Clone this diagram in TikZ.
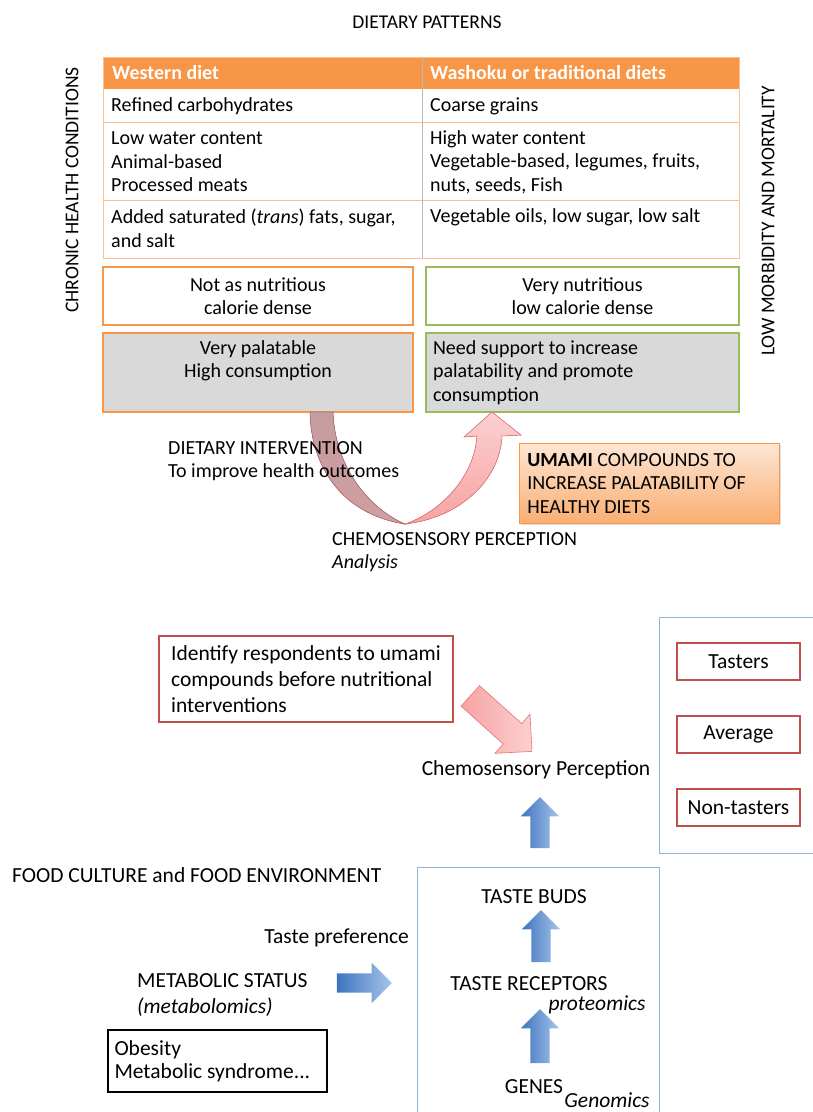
\documentclass[tikz,border=0pt]{standalone}
\usepackage{fontspec}
\setmainfont{Carlito}
\usetikzlibrary{shapes.arrows,shadows}

\definecolor{hdrorange}{HTML}{F79646}
\definecolor{lineorange}{HTML}{FAC090}
\definecolor{leafgreen}{HTML}{9BBB59}
\definecolor{boxgrey}{HTML}{D9D9D9}
\definecolor{brickred}{HTML}{C0504D}
\definecolor{steelblue}{HTML}{95B3D7}
\definecolor{arrowblue}{HTML}{3F74BE}
\definecolor{lightblue}{HTML}{A6C4EB}
\definecolor{pinkfill}{HTML}{F7A2A2}
\definecolor{pinklight}{HTML}{FCD0D0}
\definecolor{pinkline}{HTML}{E27676}
\definecolor{mauve}{HTML}{C59DA0}
\definecolor{mauveline}{HTML}{B06A6D}
\definecolor{peach}{HTML}{FDE6D4}
\definecolor{apricot}{HTML}{F9AE72}

\tikzset{
  txt/.style={font=\fontsize{20}{23.5}\selectfont, inner sep=0pt, align=flush left},
  txtL/.style={font=\fontsize{21.5}{26}\selectfont, inner sep=0pt, align=flush left},
  hdrtxt/.style={txt, text=white, font=\fontsize{20}{23.5}\selectfont\bfseries},
  obox/.style={txt, draw=hdrorange, line width=1.5pt, minimum width=310pt, minimum height=58pt},
  gbox/.style={txt, draw=leafgreen, line width=1.5pt, minimum width=313pt, minimum height=58pt},
  rbox/.style={txtL, draw=brickred, line width=1.5pt, fill=white},
  bbox/.style={draw=steelblue, line width=0.8pt},
  blockblue/.style={single arrow, draw=none, inner xsep=0pt, inner ysep=9.5pt,
    single arrow head extend=9.5pt, left color=arrowblue, right color=lightblue},
}

\begin{document}
\begin{tikzpicture}[x=1pt, y=-1pt]

% --- Dimensions ---
\def\xL{103}
\def\xM{422}
\def\xR{739}

\useasboundingbox (0,0) rectangle (812,1112);

% --- Titre et etiquettes verticales ---
\node[txt, font=\fontsize{19.5}{23}\selectfont] (title) at (427,22) {DIETARY PATTERNS};
\node[txt, font=\fontsize{19.5}{23}\selectfont, rotate=90] (chronic) at (72,190) {CHRONIC HEALTH CONDITIONS};
\node[txt, font=\fontsize{19.5}{23}\selectfont, rotate=90] (lowmorb) at (768,221) {LOW MORBIDITY AND MORTALITY};

% --- Tableau ---
\fill[hdrorange] (\xL,57) rectangle (\xR,89);
\draw[lineorange, line width=1pt] (\xL,122) -- (\xR,122);
\draw[lineorange, line width=1pt] (\xL,200) -- (\xR,200);
\draw[lineorange, line width=1pt] (\xL,57) rectangle (\xR,258);
\draw[gray!55, line width=0.8pt] (\xM,57) -- (\xM,258);

\node[hdrtxt, anchor=west] (western) at (112,73) {Western diet};
\node[hdrtxt, anchor=west] (washoku) at (430,73) {Washoku or traditional diets};

\node[txt, anchor=west] (refined) at (111,106) {Refined carbohydrates};
\node[txt, anchor=west] (coarse) at (430,106) {Coarse grains};
\node[txt, anchor=west] (lowwater) at (111,162) {Low water content\\Animal-based\\Processed meats};
\node[txt, anchor=west] (highwater) at (430,162) {High water content\\Vegetable-based, legumes, fruits,\\nuts, seeds, Fish};
\node[txt, anchor=west] (added) at (111,228.5) {Added saturated (\textit{trans}) fats, sugar,\\and salt};
\node[txt, anchor=west] (vegoils) at (430,217) {Vegetable oils, low sugar, low salt};

% --- Cases nutrition ---
\node[obox, align=flush center] (notnut) at (258,296) {Not as nutritious\\calorie dense};
\node[gbox, align=flush center] (verynut) at (582.5,296) {Very nutritious\\low calorie dense};
\node[obox, fill=boxgrey, minimum height=79pt] (palat) at (258,372.5) {};
\node[gbox, fill=boxgrey, minimum height=79pt, text width=299pt, inner xsep=7pt] (support) at (582.5,372.5)
  {Need support to increase\\palatability and promote\\consumption};
\node[txt, align=flush center] (palattxt) at (258,361) {Very palatable\\High consumption};

% --- Fleche en U ---
\fill[top color=pinklight, bottom color=pinkfill, draw=pinkline, line width=0.6pt]
  (405,524) .. controls (440,512) and (474,478) .. (477,436)
  -- (464,437) -- (492,412) -- (521,435) -- (502,436)
  .. controls (500,480) and (460,518) .. (405,524) -- cycle;
\fill[top color=mauve, bottom color=mauve!80!pinkfill, draw=mauveline, line width=0.6pt]
  (310,412) .. controls (311,470) and (345,515) .. (405,524)
  .. controls (372,510) and (335,470) .. (333,412) -- cycle;

\node[txt, anchor=west] (interv) at (168,461) {DIETARY INTERVENTION\\To improve health outcomes};
\node[txt, anchor=west] (chemoA) at (332,552) {CHEMOSENSORY PERCEPTION\\\textit{Analysis}};
\node[txt, draw=hdrorange, line width=0.8pt, top color=peach, bottom color=apricot,
  text width=244pt, inner xsep=8pt, minimum height=80pt, anchor=north west,
  drop shadow={opacity=0.25, shadow xshift=2pt, shadow yshift=-2pt}] (umami) at (519,443)
  {\textbf{UMAMI} COMPOUNDS TO\\INCREASE PALATABILITY OF\\HEALTHY DIETS};

% --- Partie basse ---
\node[rbox, minimum width=294pt, minimum height=86pt] (identify) at (306,679)
  {Identify respondents to umami\\compounds before nutritional\\interventions};
\node[blockblue, inner ysep=13.5pt, single arrow head extend=12.5pt, minimum height=83pt,
  rotate=-42, left color=pinkfill, right color=pinklight, draw=pinkline, line width=0.6pt] (pinkA) at (496,719) {};
\node[txtL] (chemo) at (536,770) {Chemosensory Perception};

\node[bbox, anchor=north west, minimum width=170pt, minimum height=236pt] (groups) at (659,617) {};
\node[rbox, minimum width=123pt, minimum height=37pt] (tasters) at (738.5,661.5) {Tasters};
\node[rbox, minimum width=123pt, minimum height=37pt] (average) at (738.5,734.5) {Average};
\node[rbox, minimum width=123pt, minimum height=37pt] (nontasters) at (738.5,807.5) {Non-tasters};

\node[blockblue, rotate=90, minimum height=51pt] (upA) at (540,827.5) {};

\node[txtL, anchor=west] (culture) at (12,875) {FOOD CULTURE and FOOD ENVIRONMENT};
\node[txtL, anchor=east] (pref) at (409,938) {Taste preference};
\node[txtL, anchor=west] (metab) at (137,994.5) {METABOLIC STATUS\\\textit{(metabolomics)}};
\node[blockblue, single arrow head extend=10.5pt, minimum height=55pt] (rightA) at (359.5,983) {};
\node[txtL, draw=black, line width=2pt, text width=205pt, inner xsep=7pt,
  minimum height=62pt, font=\fontsize{21.5}{23}\selectfont] (obesity) at (217,1061)
  {Obesity\\Metabolic syndrome...};

\node[bbox, anchor=north west, minimum width=242pt, minimum height=260pt] (genetics) at (417,867) {};
\node[txtL] (buds) at (534,897) {TASTE BUDS};
\node[blockblue, rotate=90, minimum height=52pt] (upB) at (541,941) {};
\node[txtL] (receptors) at (529,984) {TASTE RECEPTORS};
\node[txtL] (proteo) at (597,1005) {\textit{proteomics}};
\node[blockblue, rotate=90, minimum height=54pt] (upC) at (540,1041) {};
\node[txtL] (genes) at (534,1087) {GENES};
\node[txtL] (genom) at (607,1100) {\textit{Genomics}};

\end{tikzpicture}
\end{document}
